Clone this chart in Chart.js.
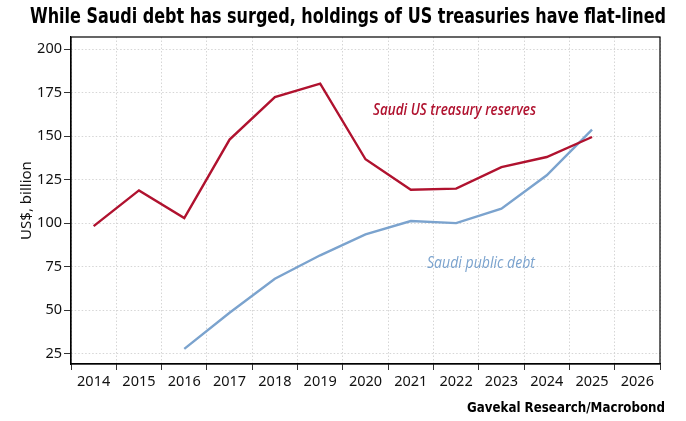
<!DOCTYPE html>
<html><head><meta charset="utf-8">
<script src="https://cdn.jsdelivr.net/npm/chart.js@4.4.0/dist/chart.umd.min.js"></script>
<style>html,body{margin:0;padding:0;background:#fff}#wrap{width:686px;height:421px;position:relative}</style>
</head><body><div id="wrap"><canvas id="c"></canvas></div>
<script>
// ---- data ----
const years = ['2014','2015','2016','2017','2018','2019','2020','2021','2022','2023','2024','2025','2026'];
const treasuryReserves = [98.3, 118.8, 102.9, 148.0, 172.5, 180.2, 136.7, 119.2, 119.8, 132.2, 138.0, 149.5, null];
const publicDebt = [null, null, 27.7, 48.5, 68.0, 81.5, 93.5, 101.2, 100.0, 108.3, 127.5, 153.8, null];
const yTicks = [25, 50, 75, 100, 125, 150, 175, 200];
const titleText = 'While Saudi debt has surged, holdings of US treasuries have flat-lined';
const sourceText = 'Gavekal Research/Macrobond';
const yAxisTitle = 'US$, billion';
const seriesNames = ['Saudi US treasury reserves', 'Saudi public debt'];

const RED = '#B0122F';
const BLUE = '#7BA3CE';
const TICKFONT = {family: "'Noto Sans', 'Open Sans', sans-serif", size: 14.5};

function drawFit(ctx, text, x, y, w, font, color, align) {
  ctx.save();
  ctx.font = font;
  ctx.fillStyle = color;
  ctx.textBaseline = 'middle';
  ctx.textAlign = 'left';
  const m = ctx.measureText(text).width;
  const s = w / m;
  let x0 = x;
  if (align === 'right') x0 = x - w;
  if (align === 'center') x0 = x - w / 2;
  ctx.translate(x0, y);
  ctx.scale(s, 1);
  ctx.fillText(text, 0, 0);
  ctx.restore();
}

const deco = {
  id: 'deco',
  afterDraw(chart) {
    const {ctx, chartArea: a} = chart;
    ctx.save();
    ctx.strokeStyle = '#000';
    ctx.lineWidth = 1.2;
    ctx.strokeRect(a.left, a.top, a.right - a.left, a.bottom - a.top);
    ctx.restore();
    drawFit(ctx, titleText, 348, 18, 636, "bold 21px 'Liberation Sans Narrow', 'DejaVu Sans Condensed', sans-serif", '#000', 'center');
    drawFit(ctx, sourceText, 665, 408, 198, "bold 14.5px 'Liberation Sans Narrow', 'DejaVu Sans Condensed', sans-serif", '#000', 'right');
    drawFit(ctx, seriesNames[0], 373, 110, 163, "italic 600 16.5px 'Open Sans', 'Noto Sans', sans-serif", RED, 'left');
    drawFit(ctx, seriesNames[1], 427, 263, 108, "italic 500 16.5px 'Open Sans', 'Noto Sans', sans-serif", BLUE, 'left');
  }
};

new Chart(document.getElementById('c'), {
  type: 'line',
  data: {
    labels: years,
    datasets: [
      {label: seriesNames[0], data: treasuryReserves, borderColor: RED, borderWidth: 2.4, pointRadius: 0, tension: 0, fill: false},
      {label: seriesNames[1], data: publicDebt, borderColor: BLUE, borderWidth: 2.4, pointRadius: 0, tension: 0, fill: false}
    ]
  },
  options: {
    responsive: true,
    maintainAspectRatio: false,
    animation: false,
    layout: {padding: {top: 37, right: 26, bottom: 27, left: 0}},
    plugins: {legend: {display: false}, tooltip: {enabled: false}, title: {display: false}},
    scales: {
      x: {
        type: 'category',
        offset: true,
        grid: {offset: true, color: '#d6d6d6', lineWidth: 1, tickLength: 6, tickColor: '#333', tickWidth: 1},
        border: {display: true, color: '#000', width: 1.2, dash: [1.5, 2]},
        ticks: {font: TICKFONT, color: '#111', padding: 3, maxRotation: 0, autoSkip: false},
        afterFit: s => { s.height = 30; }
      },
      y: {
        min: 19,
        max: 207,
        afterBuildTicks: s => { s.ticks = yTicks.map(v => ({value: v})); },
        grid: {color: '#d6d6d6', lineWidth: 1, tickLength: 7, tickColor: '#333', tickWidth: 1},
        border: {display: true, color: '#000', width: 1.2, dash: [1.5, 2]},
        ticks: {font: TICKFONT, color: '#111', padding: 2},
        title: {display: true, text: yAxisTitle, font: {family: "'Noto Sans', 'Open Sans', sans-serif", size: 15}, color: '#111', padding: {top: 18, bottom: 0}},
        afterFit: s => { s.width = 71; }
      }
    }
  },
  plugins: [deco]
});
</script>
</body></html>
